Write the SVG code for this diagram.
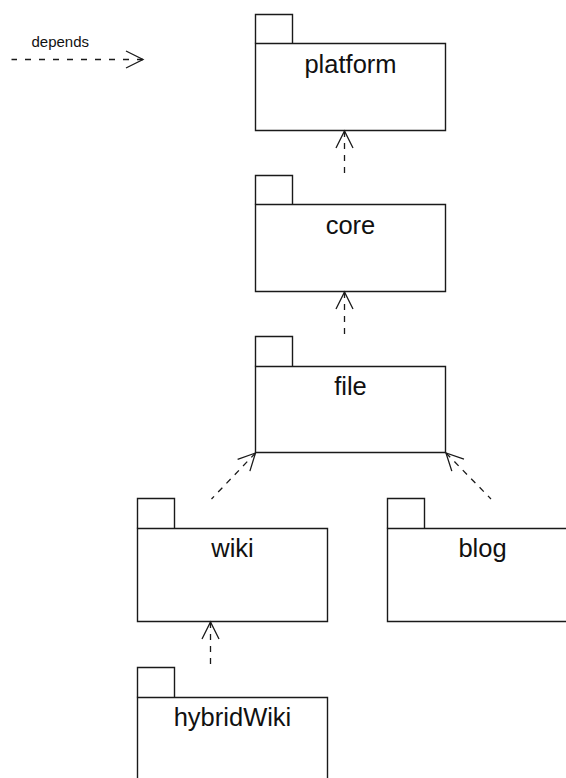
<svg xmlns="http://www.w3.org/2000/svg" width="566" height="778" viewBox="0 0 566 778">
  <style>
    .pkg path { fill: #ffffff; stroke: #1a1a1a; stroke-width: 1.4; }
    .pkg text { font-family: "Liberation Sans", Arial, sans-serif; font-size: 25.5px; fill: #111111; text-anchor: middle; }
    .dep { fill: none; stroke: #1a1a1a; stroke-width: 1.3; stroke-dasharray: 6 6; marker-start: url(#open); }
    .legend-line { stroke-dasharray: 6 8; }
    .legend-text { font-family: "Liberation Sans", Arial, sans-serif; font-size: 15px; fill: #111111; }
  </style>
  <defs>
    <!-- open arrowhead, tip at origin pointing along +x -->
    <marker id="open" markerUnits="userSpaceOnUse" viewBox="-20 -11 22 22" refX="0" refY="0" markerWidth="22" markerHeight="22" orient="auto-start-reverse" overflow="visible">
      <path d="M-17,-8.5 L0,0 L-17,8.5" fill="none" stroke="#1a1a1a" stroke-width="1.3" stroke-dasharray="none"/>
    </marker>
  </defs>

  <rect width="566" height="778" fill="#ffffff"/>

  <!-- legend -->
  <g id="legend">
    <text class="legend-text" x="31.5" y="47">depends</text>
    <path class="dep legend-line" d="M143,59.5 L11.5,59.5"/>
  </g>

  <!-- packages -->
  <g id="platform" class="pkg">
    <path d="M255.5,43.5 V14.5 H292.5 V43.5"/>
    <path d="M255.5,43.5 H445.5 V130.5 H255.5 Z"/>
    <text x="350.5" y="73">platform</text>
  </g>
  <g id="core" class="pkg">
    <path d="M255.5,204.5 V175.5 H292.5 V204.5"/>
    <path d="M255.5,204.5 H445.5 V291.5 H255.5 Z"/>
    <text x="350.5" y="234">core</text>
  </g>
  <g id="file" class="pkg">
    <path d="M255.5,366.5 V336.5 H292.5 V366.5"/>
    <path d="M255.5,366.5 H445.5 V452.5 H255.5 Z"/>
    <text x="350.5" y="395">file</text>
  </g>
  <g id="wiki" class="pkg">
    <path d="M137.5,528.5 V498.5 H174.5 V528.5"/>
    <path d="M137.5,528.5 H327.5 V621.5 H137.5 Z"/>
    <text x="232.5" y="557">wiki</text>
  </g>
  <g id="blog" class="pkg">
    <path d="M387.5,528.5 V498.5 H424.5 V528.5"/>
    <path d="M387.5,528.5 H578.5 V621.5 H387.5 Z"/>
    <text x="482.5" y="557">blog</text>
  </g>
  <g id="hybridWiki" class="pkg">
    <path d="M137.5,697.5 V667.5 H174.5 V697.5"/>
    <path d="M137.5,697.5 H327.5 V790 H137.5 Z"/>
    <text x="232.5" y="726">hybridWiki</text>
  </g>

  <!-- dependency connectors (drawn from arrow tip to source) -->
  <g id="connectors">
    <path class="dep" d="M344.5,131 L344.5,173"/>
    <path class="dep" d="M344.5,292 L344.5,334"/>
    <path class="dep" d="M255.5,453 L211.5,499"/>
    <path class="dep" d="M446,453 L491,499"/>
    <path class="dep" d="M210.5,622 L210.5,665"/>
  </g>
</svg>
